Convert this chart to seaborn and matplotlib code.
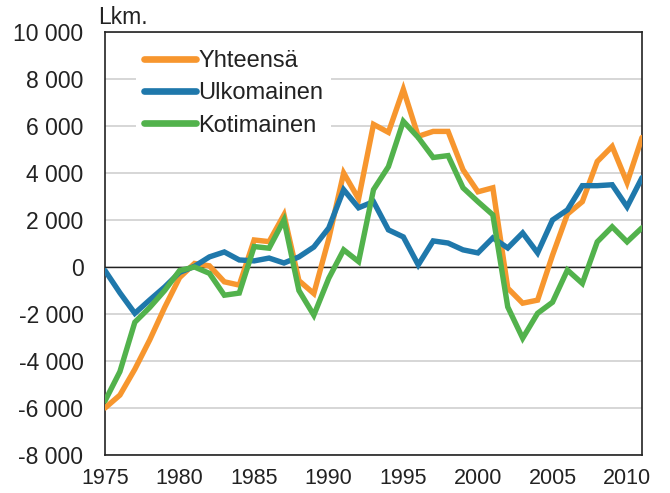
import numpy as np
import pandas as pd
import matplotlib
matplotlib.use("Agg")
import matplotlib.pyplot as plt
from matplotlib.ticker import FuncFormatter
import seaborn as sns

years = list(range(1975, 2012))
yhteensa = [-6000, -5450, -4350, -3100, -1720, -450, 150, 50, -630, -770,
            1150, 1080, 2220, -580, -1130, 1200, 4000, 2900, 6070, 5730,
            7560, 5560, 5770, 5770, 4140, 3200, 3370, -900, -1540, -1410,
            500, 2250, 2780, 4490, 5130, 3590, 5510]
ulkomainen = [-150, -1100, -1970, -1400, -850, -230, 30, 430, 640, 300,
              260, 380, 170, 430, 850, 1660, 3290, 2520, 2780, 1580,
              1280, 90, 1110, 1020, 730, 600, 1240, 810, 1450, 600,
              2000, 2430, 3460, 3460, 3500, 2560, 3800]
kotimainen = [-5700, -4450, -2350, -1720, -1000, -150, 0, -270, -1200, -1110,
              870, 800, 2000, -1000, -2050, -480, 730, 230, 3290, 4270,
              6200, 5510, 4660, 4740, 3370, 2780, 2220, -1700, -3030, -1970,
              -1500, -130, -700, 1070, 1710, 1070, 1670]
series_names = ["Yhteensä", "Ulkomainen", "Kotimainen"]
colors = ["#F7962E", "#1F78AB", "#52B24C"]
y_ticks = list(range(-8000, 10001, 2000))
x_ticks = list(range(1975, 2011, 5))

df = pd.DataFrame({
    "Vuosi": years * 3,
    "Arvo": yhteensa + ulkomainen + kotimainen,
    "Sarja": [series_names[0]] * len(years) + [series_names[1]] * len(years) + [series_names[2]] * len(years),
})

sns.set_style("white")
plt.rcParams["font.family"] = ["Liberation Sans", "DejaVu Sans"]

fig = plt.figure(figsize=(6.7, 4.93), dpi=100)
ax = fig.add_axes([105 / 670, 1 - 455 / 493, (642 - 105) / 670, (455 - 32) / 493])

ax.yaxis.grid(True, color="#d0d0d0", linewidth=1.2, zorder=0)
ax.set_axisbelow(True)
ax.axhline(0, color="#222222", linewidth=1.0, zorder=1)

sns.lineplot(data=df, x="Vuosi", y="Arvo", hue="Sarja", palette=colors,
             hue_order=series_names, linewidth=3.9, ax=ax, zorder=3)
for line in ax.get_lines():
    line.set_solid_joinstyle("miter")

ax.set_xlim(1975, 2011)
ax.set_ylim(-8000, 10000)
ax.set_xticks(x_ticks)
ax.set_yticks(y_ticks)
ax.yaxis.set_major_formatter(FuncFormatter(lambda v, p: f"{int(v):,}".replace(",", " ")))
ax.tick_params(axis="both", direction="out", length=6, width=1, colors="#222222",
               labelcolor="#222222")
ax.tick_params(axis="x", pad=3, labelsize=15.5)
ax.tick_params(axis="y", pad=9.5, labelsize=16.5)
ax.set_xlabel("")
ax.set_ylabel("")
for s in ax.spines.values():
    s.set_color("#222222")
    s.set_linewidth(1.2)

ax.text(-0.013, 1.006, "Lkm.", transform=ax.transAxes, fontsize=16.5,
        color="#222222", ha="left", va="bottom")

leg = ax.legend(loc="upper left", bbox_to_anchor=(0.035, 1.005), fontsize=17,
                frameon=True, facecolor="white", edgecolor="none", framealpha=1,
                handlelength=2.2, handletextpad=0.1, labelspacing=0.44,
                borderpad=0.35, fancybox=False)
for h in leg.get_lines():
    h.set_linewidth(4.8)
    h.set_solid_capstyle("round")
for t in leg.get_texts():
    t.set_color("#222222")

fig.savefig("out.png", dpi=100)
